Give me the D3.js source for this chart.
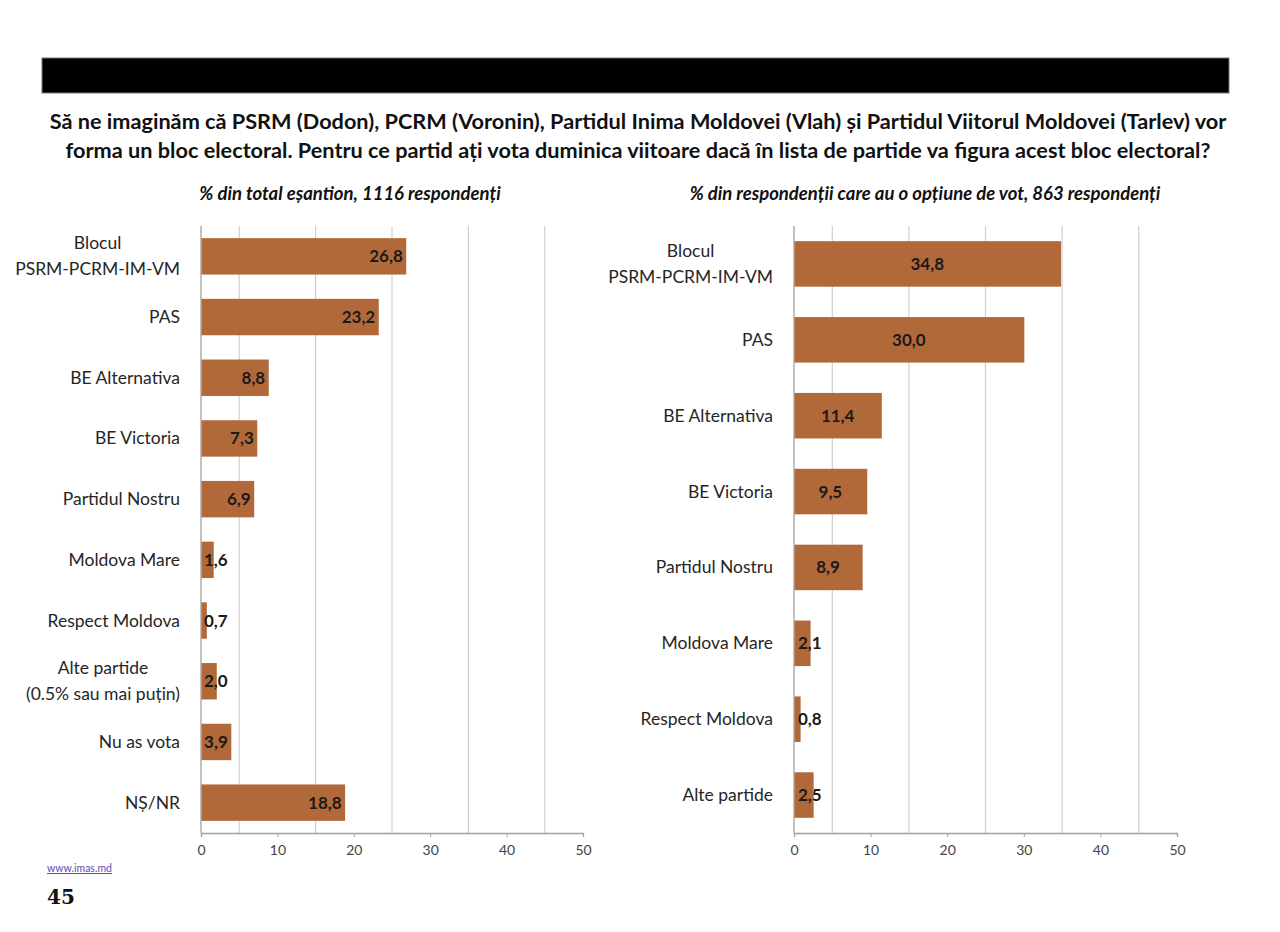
<!DOCTYPE html>
<html>
<head>
<meta charset="utf-8">
<script src="https://cdn.jsdelivr.net/npm/d3@7"></script>
<style>
    body { margin: 0; background: #fff; }
    svg { display: block; }
</style>
</head>
<body>
<svg id="chart"></svg>
<script>
const leftCategories = ["Blocul\nPSRM-PCRM-IM-VM", "PAS", "BE Alternativa", "BE Victoria", "Partidul Nostru",
    "Moldova Mare", "Respect Moldova", "Alte partide\n(0.5% sau mai puțin)", "Nu as vota", "NȘ/NR"];
const leftValues = [26.8, 23.2, 8.8, 7.3, 6.9, 1.6, 0.7, 2.0, 3.9, 18.8];

const rightCategories = ["Blocul\nPSRM-PCRM-IM-VM", "PAS", "BE Alternativa", "BE Victoria", "Partidul Nostru",
    "Moldova Mare", "Respect Moldova", "Alte partide"];
const rightValues = [34.8, 30.0, 11.4, 9.5, 8.9, 2.1, 0.8, 2.5];

const tickValues = [0, 10, 20, 30, 40, 50];
const gridValues = [5, 15, 25, 35, 45];

const titleLines = [
    "Să ne imaginăm că PSRM (Dodon), PCRM (Voronin), Partidul Inima Moldovei (Vlah) și Partidul Viitorul Moldovei (Tarlev) vor",
    "forma un bloc electoral. Pentru ce partid ați vota duminica viitoare dacă în lista de partide va figura acest bloc electoral?"
];
const leftSubtitle = "% din total eșantion, 1116 respondenți";
const rightSubtitle = "% din respondenții care au o opțiune de vot, 863 respondenți";

const FONT = "Lato, 'Open Sans', sans-serif";
const BAR = "#b2693a";

const svg = d3.select("#chart").attr("width", 1280).attr("height", 932);

// header band
svg.append("rect").attr("x", 42).attr("y", 58).attr("width", 1187).attr("height", 35)
    .attr("fill", "#000").attr("stroke", "#777").attr("stroke-width", 1);

svg.append("g").selectAll("text")
    .data(titleLines)
    .join("text")
    .attr("x", 638)
    .attr("y", (d, i) => 129 + i * 29)
    .attr("text-anchor", "middle")
    .style("font-family", FONT)
    .style("font-weight", "bold")
    .style("font-size", "21.7px")
    .attr("fill", "#111")
    .text(d => d);

function barChart(config) {
    const self = this;
    self.config = config;

    const x = d3.scaleLinear().domain([0, 50]).range([config.x0, config.x1]);
    const y = d3.scaleBand().domain(config.categories).range([config.top, config.bottom]).paddingInner(0.4).paddingOuter(0.2);

    const g = svg.append("g");

    g.append("text")
        .attr("x", config.subX)
        .attr("y", 200)
        .attr("text-anchor", "middle")
        .style("font-family", FONT)
        .style("font-weight", "bold")
        .style("font-style", "italic")
        .style("font-size", "18.5px")
        .attr("fill", "#111")
        .text(config.subtitle);

    // gridlines at the half steps
    g.selectAll(".grid")
        .data(gridValues)
        .join("line")
        .attr("x1", d => x(d)).attr("x2", d => x(d))
        .attr("y1", config.top).attr("y2", config.bottom)
        .attr("stroke", "#d0d0d0").attr("stroke-width", 1.2);

    // bottom axis
    const axis = g.append("g")
        .attr("transform", `translate(0, ${config.bottom})`)
        .call(d3.axisBottom(x).tickValues(tickValues).tickSize(4).tickPadding(8));
    axis.select(".domain").attr("stroke", "#a0a0a0").attr("stroke-width", 1.3);
    axis.selectAll(".tick line").attr("stroke", "#a0a0a0");
    axis.selectAll(".tick text")
        .style("font-family", FONT)
        .style("font-size", "14px")
        .attr("fill", "#444");

    g.append("line")
        .attr("x1", x(0)).attr("x2", x(0))
        .attr("y1", config.top).attr("y2", config.bottom)
        .attr("stroke", "#a0a0a0").attr("stroke-width", 1.3);

    const rows = config.categories.map((c, i) => ({ cat: c, value: config.values[i] }));

    g.selectAll(".bar")
        .data(rows)
        .join("rect")
        .attr("x", x(0) + 0.5)
        .attr("y", d => y(d.cat))
        .attr("width", d => x(d.value) - x(0))
        .attr("height", y.bandwidth())
        .attr("fill", BAR);

    // category labels
    const labels = g.selectAll(".cat")
        .data(rows)
        .join("text")
        .attr("y", d => y(d.cat) + y.bandwidth() / 2)
        .style("font-family", FONT)
        .style("font-size", "17.5px")
        .attr("fill", "#262626");

    labels.each(function (d) {
        const lines = d.cat.split("\n");
        const t = d3.select(this);
        const gap = 26;
        const spans = t.selectAll("tspan")
            .data(lines)
            .join("tspan")
            .attr("dy", (l, i) => i === 0 ? (-(lines.length - 1) * gap / 2 + 6) + "px" : gap + "px")
            .text(l => l);
        let maxW = 0;
        spans.each(function () { maxW = Math.max(maxW, this.getComputedTextLength()); });
        spans.attr("x", config.labelRight - maxW / 2).attr("text-anchor", "middle");
    });

    // value labels
    g.selectAll(".val")
        .data(rows)
        .join("text")
        .attr("y", d => y(d.cat) + y.bandwidth() / 2 + 6)
        .style("font-family", FONT)
        .style("font-weight", "bold")
        .style("font-size", "17px")
        .attr("fill", "#1a1a1a")
        .text(d => d3.format(".1f")(d.value).replace(".", ","))
        .each(function (d) {
            const w = this.getComputedTextLength();
            let left;
            if (config.labelMode === "end") {
                left = Math.max(x(d.value) - 3 - w, x(0) + 3);
            } else {
                left = Math.max((x(0) + x(d.value)) / 2 - w / 2, x(0) + 4);
            }
            d3.select(this).attr("x", left);
        });
}

new barChart({
    categories: leftCategories, values: leftValues,
    x0: 201, x1: 583, top: 226, bottom: 833,
    labelRight: 180, labelMode: "end",
    subtitle: leftSubtitle, subX: 350
});

new barChart({
    categories: rightCategories, values: rightValues,
    x0: 794, x1: 1177, top: 226, bottom: 833,
    labelRight: 773, labelMode: "center",
    subtitle: rightSubtitle, subX: 925
});

// footer
svg.append("text")
    .attr("x", 47).attr("y", 872)
    .style("font-family", FONT)
    .style("font-size", "10.5px")
    .style("text-decoration", "underline")
    .attr("fill", "#5b4fb0")
    .text("www.imas.md");

svg.append("text")
    .attr("x", 47).attr("y", 904)
    .style("font-family", "'DejaVu Serif', serif")
    .style("font-weight", "bold")
    .style("font-size", "20px")
    .attr("fill", "#111")
    .text("45");
</script>
</body>
</html>
